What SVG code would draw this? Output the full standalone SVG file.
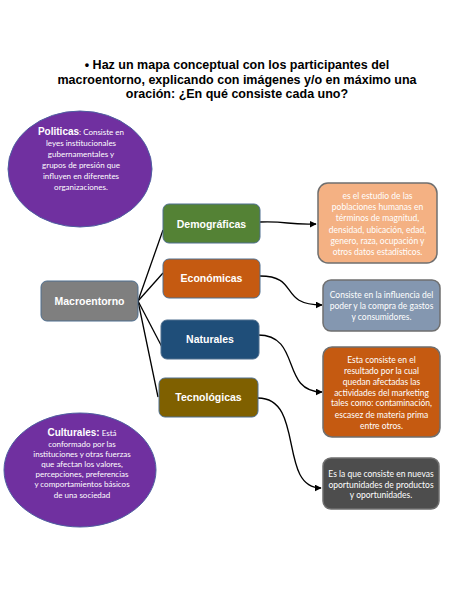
<svg xmlns="http://www.w3.org/2000/svg" width="474" height="613" viewBox="0 0 474 613">
<style>
.title{font-family:"Liberation Sans",Arial,sans-serif;font-weight:bold;font-size:12.5px;fill:#000;text-anchor:middle}
.lbl{font-family:"Liberation Sans",Arial,sans-serif;font-weight:bold;font-size:10.5px;fill:#fff;text-anchor:middle}
.txt{font-family:Lato,"Liberation Sans",sans-serif;font-size:8.5px;fill:#fff;text-anchor:middle}
.etxt{font-family:Lato,"Liberation Sans",sans-serif;font-size:8px;fill:#fff;text-anchor:middle}
.hd{font-family:"Liberation Sans",Arial,sans-serif;font-weight:bold;font-size:10px}
.box{stroke:#4f6f8f;stroke-width:1}
.rbox{stroke:#6f6f6f;stroke-width:1.5}
.ell{fill:#7030a0;stroke:#4e5fa0;stroke-width:1}
.con{fill:none;stroke:#000;stroke-width:1.3}
</style>
<defs>
<marker id="ah" viewBox="0 0 10 10" refX="9" refY="5" markerWidth="7" markerHeight="7" orient="auto" markerUnits="userSpaceOnUse">
<path d="M0,0 L10,5 L0,10 z" fill="#000"/>
</marker>
</defs>
<rect width="474" height="613" fill="#fff"/>
<g id="title">
<text class="title" x="237" y="69">• Haz un mapa conceptual con los participantes del</text>
<text class="title" x="237" y="84">macroentorno, explicando con imágenes y/o en máximo una</text>
<text class="title" x="237" y="98">oración: ¿En qué consiste cada uno?</text>
</g>
<g id="connectors">
<path class="con" d="M138,301 L163,230"/>
<path class="con" d="M138,301 L163,273"/>
<path class="con" d="M138,301 L162,347"/>
<path class="con" d="M138,301 L158,397"/>
<path class="con" d="M260,222 C290,221 285,225 316,224" marker-end="url(#ah)"/>
<path class="con" d="M260,276 C300,276 278,305 322,305" marker-end="url(#ah)"/>
<path class="con" d="M258,335 C302,335 280,392 322,392" marker-end="url(#ah)"/>
<path class="con" d="M258,398 C305,398 278,488 321,488" marker-end="url(#ah)"/>
</g>
<g id="politicas">
<ellipse class="ell" cx="80" cy="169" rx="72" ry="58"/>
<text class="etxt" x="81" y="135"><tspan class="hd">Politicas</tspan>: Consiste en</text>
<text class="etxt" x="81" y="146">leyes institucionales</text>
<text class="etxt" x="81" y="157">gubernamentales y</text>
<text class="etxt" x="81" y="168">grupos de presión que</text>
<text class="etxt" x="81" y="179">influyen en diferentes</text>
<text class="etxt" x="81" y="190">organizaciones.</text>
</g>
<g id="culturales">
<ellipse class="ell" cx="80" cy="470" rx="76" ry="57"/>
<text class="etxt" x="82" y="436"><tspan class="hd">Culturales:</tspan> Está</text>
<text class="etxt" x="82" y="447">conformado por las</text>
<text class="etxt" x="82" y="457">instituciones y otras fuerzas</text>
<text class="etxt" x="82" y="467">que afectan los valores,</text>
<text class="etxt" x="82" y="477">percepciones, preferencias</text>
<text class="etxt" x="82" y="487">y comportamientos básicos</text>
<text class="etxt" x="82" y="498">de una sociedad</text>
</g>
<g id="macroentorno">
<rect class="box" x="41" y="281" width="97" height="40" rx="6" fill="#7f7f7f"/>
<text class="lbl" x="89.5" y="305">Macroentorno</text>
</g>
<g id="demograficas">
<rect class="box" x="163" y="204" width="97" height="39" rx="6" fill="#548235"/>
<text class="lbl" x="211.5" y="227.5">Demográficas</text>
</g>
<g id="economicas">
<rect class="box" x="163" y="259" width="97" height="39" rx="6" fill="#c55a11"/>
<text class="lbl" x="211.5" y="282">Económicas</text>
</g>
<g id="naturales">
<rect class="box" x="161" y="320" width="98" height="39" rx="6" fill="#1f4e79"/>
<text class="lbl" x="210" y="343">Naturales</text>
</g>
<g id="tecnologicas">
<rect class="box" x="159" y="378" width="99" height="39" rx="6" fill="#7f6000"/>
<text class="lbl" x="208.5" y="401">Tecnológicas</text>
</g>
<g id="desc-demograficas">
<rect class="rbox" x="318" y="183" width="119" height="80" rx="10" fill="#f4b183"/>
<text class="txt" x="377.5" y="199" fill="#fdf3ea">es el estudio de las</text>
<text class="txt" x="377.5" y="210">poblaciones humanas en</text>
<text class="txt" x="377.5" y="221">términos de magnitud,</text>
<text class="txt" x="377.5" y="233">densidad, ubicación, edad,</text>
<text class="txt" x="377.5" y="244">genero, raza, ocupación y</text>
<text class="txt" x="377.5" y="255">otros datos estadísticos.</text>
</g>
<g id="desc-economicas">
<rect class="rbox" x="323" y="280" width="117" height="51" rx="8" fill="#8497b0"/>
<text class="txt" x="381.5" y="298">Consiste en la influencia del</text>
<text class="txt" x="381.5" y="309">poder y la compra de gastos</text>
<text class="txt" x="381.5" y="320">y consumidores.</text>
</g>
<g id="desc-naturales">
<rect class="rbox" x="323" y="347" width="117" height="90" rx="9" fill="#c55a11"/>
<text class="txt" x="381.5" y="363">Esta consiste en el</text>
<text class="txt" x="381.5" y="374">resultado por la cual</text>
<text class="txt" x="381.5" y="385">quedan afectadas las</text>
<text class="txt" x="381.5" y="396">actividades del marketing</text>
<text class="txt" x="381.5" y="406">tales como: contaminación,</text>
<text class="txt" x="381.5" y="418">escasez de materia prima</text>
<text class="txt" x="381.5" y="429">entre otros.</text>
</g>
<g id="desc-tecnologicas">
<rect class="rbox" x="323" y="458" width="116" height="51" rx="8" fill="#4d4d4d"/>
<text class="txt" x="381" y="477">Es la que consiste en nuevas</text>
<text class="txt" x="381" y="488">oportunidades de productos</text>
<text class="txt" x="381" y="498">y oportunidades.</text>
</g>
</svg>
